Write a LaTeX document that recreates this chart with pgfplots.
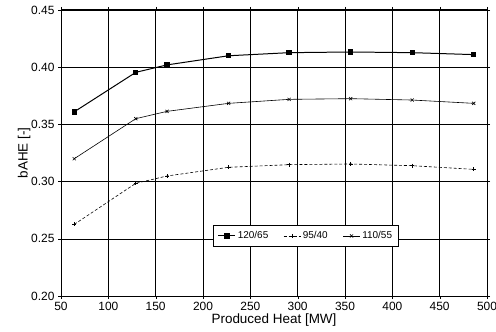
\documentclass[border=0pt]{standalone}
\usepackage{pgfplots}
\pgfplotsset{compat=1.18}
\usepackage{fontspec}
\setmainfont{Liberation Sans}
\begin{document}
\begin{tikzpicture}
\useasboundingbox (-61bp,-36bp) rectangle (435bp,296bp);
\begin{axis}[
  name=ax,
  at={(0,0)}, anchor=south west,
  scale only axis,
  width=426bp, height=286bp,
  xmin=50, xmax=500, ymin=0.20, ymax=0.45,
  xtick={50,100,...,500},
  ytick={0.20,0.25,...,0.45},
  yticklabel style={/pgf/number format/fixed,/pgf/number format/fixed zerofill,/pgf/number format/precision=2},
  /pgf/number format/assume math mode=true,
  tick label style={font=\fontsize{12}{13}\selectfont},
  label style={font=\fontsize{13.5}{15}\selectfont},
  xlabel={Produced Heat [MW]},
  ylabel={bAHE [-]},
  xlabel style={yshift=4bp},
  ylabel style={yshift=-6bp},
  grid=major,
  major grid style={black, line width=0.6pt},
  axis line style={black, line width=1pt},
  tick style={black},
  tick align=outside,
  major tick length=3bp,
  legend columns=3,
  legend style={at={(0.575,0.21)}, anchor=center, draw=black, line width=0.8pt,
    font=\fontsize{10}{11}\selectfont, inner sep=4pt, /tikz/every even column/.append style={column sep=13pt}},
  legend cell align=left,
]
\addplot[black, line width=1pt, mark=square*, mark size=2.2pt] coordinates {
(64,0.361) (129,0.3955) (162,0.402) (227,0.410) (291,0.4127) (356,0.4133) (421,0.4127) (486,0.411)};
\addlegendentry{120/65}
\addplot[black, line width=0.6pt, densely dashed, mark=+, mark size=2pt, mark options={solid}] coordinates {
(64,0.2626) (129,0.2985) (162,0.3049) (227,0.3125) (291,0.3148) (356,0.3154) (421,0.3139) (486,0.3107)};
\addlegendentry{95/40}
\addplot[black, line width=0.6pt, mark=x, mark size=2.2pt] coordinates {
(64,0.320) (129,0.355) (162,0.3614) (227,0.3684) (291,0.3719) (356,0.3725) (421,0.3713) (486,0.3684)};
\addlegendentry{110/55}
\end{axis}
\end{tikzpicture}
\end{document}
